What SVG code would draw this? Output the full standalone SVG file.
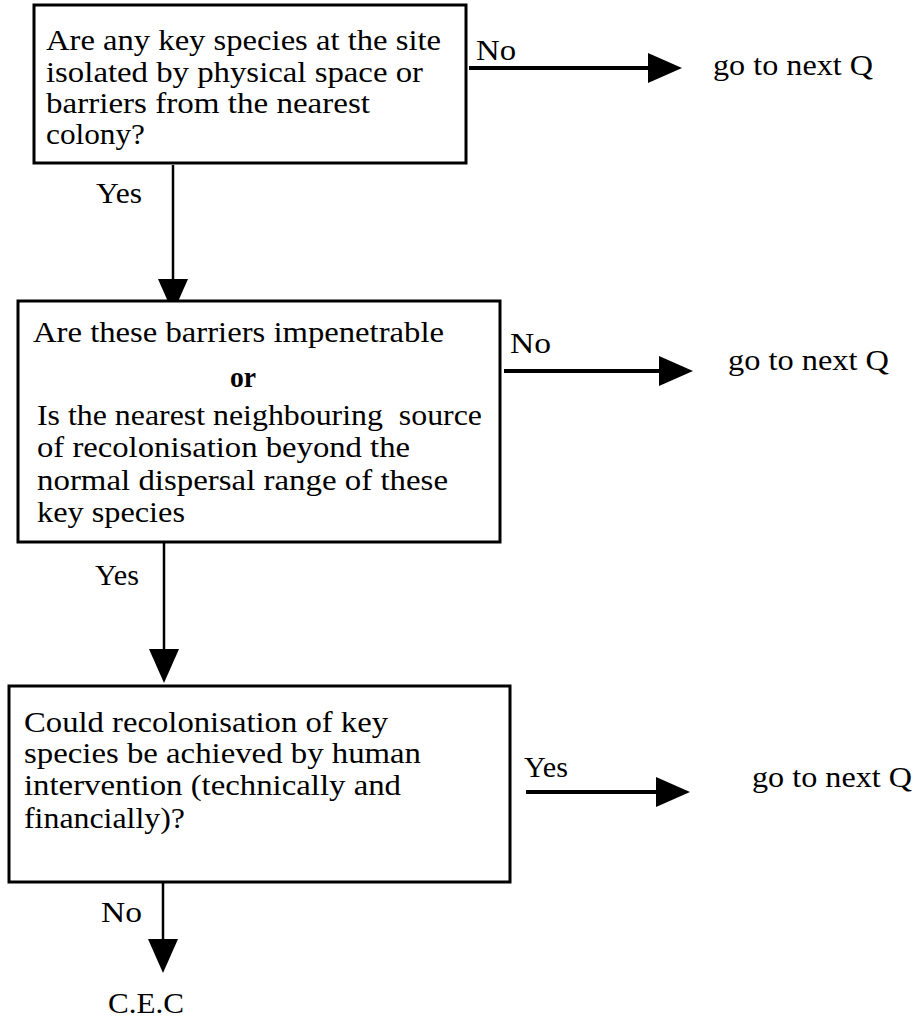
<svg xmlns="http://www.w3.org/2000/svg" width="917" height="1020" viewBox="0 0 917 1020">
<defs>
<marker id="ah" viewBox="0 0 34 30" markerWidth="34" markerHeight="30" refX="24" refY="15" orient="auto" markerUnits="userSpaceOnUse">
<path d="M0,0 L34,15 L0,30 Z" fill="#000"/>
</marker>
</defs>
<style>
text{font-family:"Liberation Serif","Times New Roman",serif;font-size:29px;fill:#000}
.b{font-weight:bold}
.box{fill:#fff;stroke:#000;stroke-width:3}
.c{stroke:#000;stroke-width:2.5;fill:none}
.h{stroke-width:4}
</style>
<rect width="917" height="1020" fill="#fff"/>
<g id="connectors">
<line class="c h" x1="469" y1="68" x2="672" y2="68" marker-end="url(#ah)"/>
<line class="c" x1="173" y1="165" x2="173" y2="303" marker-end="url(#ah)"/>
<line class="c h" x1="504" y1="371" x2="683" y2="371" marker-end="url(#ah)"/>
<line class="c" x1="164" y1="542" x2="164" y2="673" marker-end="url(#ah)"/>
<line class="c h" x1="526" y1="792" x2="680" y2="792" marker-end="url(#ah)"/>
<line class="c" x1="163" y1="882" x2="163" y2="963" marker-end="url(#ah)"/>
<text x="476" y="60" textLength="40" lengthAdjust="spacingAndGlyphs">No</text>
<text x="96" y="203" textLength="46" lengthAdjust="spacingAndGlyphs">Yes</text>
<text x="510" y="353" textLength="41" lengthAdjust="spacingAndGlyphs">No</text>
<text x="95" y="585" textLength="44" lengthAdjust="spacingAndGlyphs">Yes</text>
<text x="524" y="777" textLength="44" lengthAdjust="spacingAndGlyphs">Yes</text>
<text x="101" y="922" textLength="41" lengthAdjust="spacingAndGlyphs">No</text>
</g>
<g id="q1">
<rect class="box" x="34" y="5" width="432" height="158"/>
<text x="46" y="50" textLength="395" lengthAdjust="spacingAndGlyphs">Are any key species at the site</text>
<text x="46" y="82" textLength="377" lengthAdjust="spacingAndGlyphs">isolated by physical space or</text>
<text x="46" y="113" textLength="324" lengthAdjust="spacingAndGlyphs">barriers from the nearest</text>
<text x="46" y="144" textLength="99" lengthAdjust="spacingAndGlyphs">colony?</text>
</g>
<g id="next1">
<text x="713" y="75" textLength="160" lengthAdjust="spacingAndGlyphs">go to next Q</text>
</g>
<g id="q2">
<rect class="box" x="18" y="301" width="482" height="241"/>
<text x="33" y="342" textLength="411" lengthAdjust="spacingAndGlyphs">Are these barriers impenetrable</text>
<text class="b" x="230" y="387" textLength="26" lengthAdjust="spacingAndGlyphs">or</text>
<text x="37" y="425" textLength="445" lengthAdjust="spacingAndGlyphs" xml:space="preserve">Is the nearest neighbouring  source</text>
<text x="37" y="457" textLength="373" lengthAdjust="spacingAndGlyphs">of recolonisation beyond the</text>
<text x="37" y="490" textLength="411" lengthAdjust="spacingAndGlyphs">normal dispersal range of these</text>
<text x="37" y="522" textLength="148" lengthAdjust="spacingAndGlyphs">key species</text>
</g>
<g id="next2">
<text x="728" y="370" textLength="161" lengthAdjust="spacingAndGlyphs">go to next Q</text>
</g>
<g id="q3">
<rect class="box" x="9" y="686" width="501" height="196"/>
<text x="24" y="732" textLength="364" lengthAdjust="spacingAndGlyphs">Could recolonisation of key</text>
<text x="24" y="763" textLength="397" lengthAdjust="spacingAndGlyphs">species be achieved by human</text>
<text x="24" y="795" textLength="377" lengthAdjust="spacingAndGlyphs">intervention (technically and</text>
<text x="24" y="828" textLength="161" lengthAdjust="spacingAndGlyphs">financially)?</text>
</g>
<g id="next3">
<text x="752" y="787" textLength="160" lengthAdjust="spacingAndGlyphs">go to next Q</text>
</g>
<g id="cec">
<text x="108" y="1013" textLength="76" lengthAdjust="spacingAndGlyphs">C.E.C</text>
</g>
</svg>
